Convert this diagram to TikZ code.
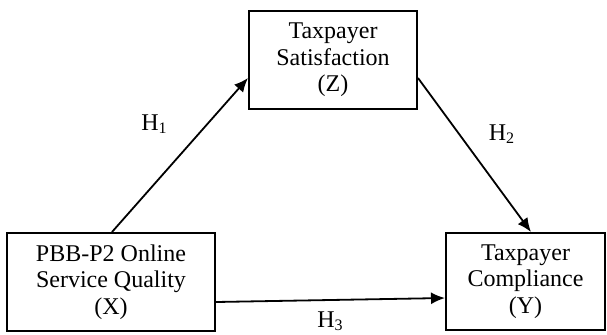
\documentclass[tikz,border=0pt]{standalone}
\usepackage{fontspec}
\setmainfont{Liberation Serif}
\usetikzlibrary{arrows.meta}

\begin{document}
\begin{tikzpicture}[x=0.5pt, y=-0.5pt,
  varbox/.style={draw=black, line width=1pt, align=center, inner sep=0pt, font=\fontsize{12}{13.2}\selectfont},
  hyp/.style={line width=0.9pt, -{Latex[length=7pt, width=6pt]}},
  hlabel/.style={anchor=base, inner sep=0pt, font=\fontsize{12}{13.2}\selectfont}]
\useasboundingbox (0,0) rectangle (607,334);

\node[varbox, minimum width=104pt, minimum height=49pt] (X) at (111,282) {PBB-P2 Online\\Service Quality\\(X)};
\node[varbox, minimum width=84pt, minimum height=49pt] (Z) at (333,60) {Taxpayer\\Satisfaction\\(Z)};
\node[varbox, minimum width=79.5pt, minimum height=48.5pt] (Y) at (525.5,281.5) {Taxpayer\\Compliance\\(Y)};

% paths
\draw[hyp] ([xshift=0.5pt]X.north) -- ([yshift=-9pt]Z.west); % H1
\draw[hyp] ([yshift=-9pt]Z.east) -- ([xshift=2.75pt]Y.north); % H2
\draw[hyp] ([yshift=-10pt]X.east) -- ([yshift=-8.25pt]Y.west); % H3

\node[hlabel] (h1) at (154.5,130) {H\textsubscript{1}};
\node[hlabel] (h2) at (502,140) {H\textsubscript{2}};
\node[hlabel] (h3) at (330.5,327) {H\textsubscript{3}};
\end{tikzpicture}
\end{document}
